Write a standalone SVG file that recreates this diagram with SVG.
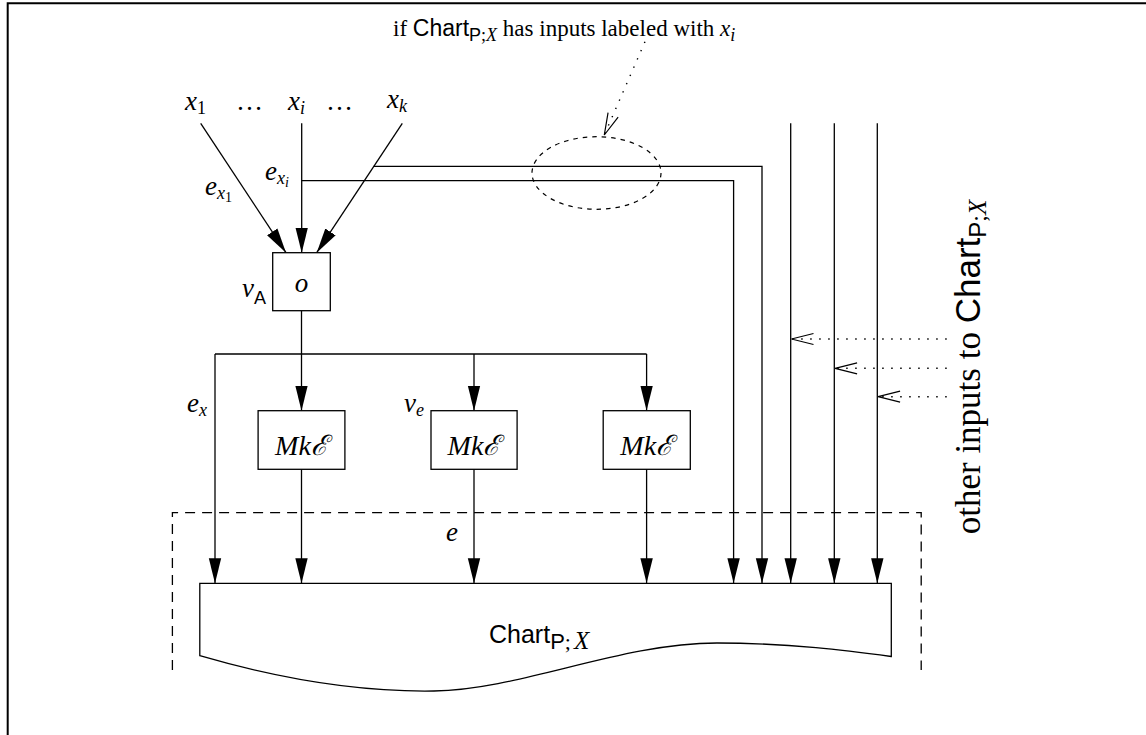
<svg xmlns="http://www.w3.org/2000/svg" width="1146" height="735" viewBox="0 0 1146 735">
<defs>
<style>
.ln{fill:none;stroke:#000;stroke-width:1.3}
.bx{fill:#fff;stroke:#000;stroke-width:1.3}
.dot{fill:none;stroke:#000;stroke-width:1.4;stroke-dasharray:1.5 7.5}
.rm{font-family:"Liberation Serif","DejaVu Serif",serif;fill:#000}
.m{font-size:27px}
.it{font-family:"Liberation Serif","DejaVu Serif",serif;font-style:italic}
.sf{font-family:"Liberation Sans",Arial,sans-serif;font-style:normal}
.sub{font-size:18px}
.ssub{font-size:14px}
.mk{font-size:28px;text-anchor:middle}
</style>
<marker id="ah" markerUnits="userSpaceOnUse" markerWidth="26" markerHeight="14" viewBox="0 0 26 14" refX="25" refY="7" orient="auto">
<path d="M0,0.8 L25,7 L0,13.2 Z" fill="#000"/>
</marker>
<marker id="oh" markerUnits="userSpaceOnUse" markerWidth="26" markerHeight="16" viewBox="-1 -8 26 16" refX="22" refY="0" orient="auto">
<path d="M0,-5.5 L22,0 L0,5.5" fill="none" stroke="#000" stroke-width="1.2"/>
</marker>
</defs>
<rect width="1146" height="735" fill="#fff"/>
<path d="M7.7,735 V3.3 H1146" fill="none" stroke="#000" stroke-width="2"/>

<g id="connectors">
<path class="ln" d="M200.7,123.3 L286,252.7" marker-end="url(#ah)"/>
<path class="ln" d="M301.7,123.3 V252.7" marker-end="url(#ah)"/>
<path class="ln" d="M402.3,123.3 L316.7,252.7" marker-end="url(#ah)"/>
<path class="ln" d="M373.8,166.3 H762 V583.3" marker-end="url(#ah)"/>
<path class="ln" d="M301.7,180.7 H733.6 V583.3" marker-end="url(#ah)"/>
<path class="ln" d="M790.7,123.3 V583.3" marker-end="url(#ah)"/>
<path class="ln" d="M834.3,123.3 V583.3" marker-end="url(#ah)"/>
<path class="ln" d="M877.3,123.3 V583.3" marker-end="url(#ah)"/>
<path class="ln" d="M301.5,310.7 V354"/>
<path class="ln" d="M215,354 H646.6"/>
<path class="ln" d="M215,354 V583.3" marker-end="url(#ah)"/>
<path class="ln" d="M301.5,354 V410.7" marker-end="url(#ah)"/>
<path class="ln" d="M474,354 V410.7" marker-end="url(#ah)"/>
<path class="ln" d="M646.6,354 V410.7" marker-end="url(#ah)"/>
<path class="ln" d="M301.5,469.3 V583.3" marker-end="url(#ah)"/>
<path class="ln" d="M474,469.3 V583.3" marker-end="url(#ah)"/>
<path class="ln" d="M646.6,469.3 V583.3" marker-end="url(#ah)"/>
<path class="dot" d="M645,41.7 L604.3,135" marker-end="url(#oh)"/>
<path class="dot" d="M946.7,339 H791.5" marker-end="url(#oh)"/>
<path class="dot" d="M946.7,368.3 H835.1" marker-end="url(#oh)"/>
<path class="dot" d="M946.7,396.7 H878.1" marker-end="url(#oh)"/>
</g>

<g id="title">
<text class="rm" x="393" y="36" style="font-size:23px">if <tspan class="sf">Chart</tspan><tspan class="sf sub" dy="5">P</tspan><tspan class="sub">;</tspan><tspan class="it sub">X</tspan><tspan dy="-5"> has inputs labeled with </tspan><tspan class="it">x</tspan><tspan class="it sub" dy="5">i</tspan></text>
</g>

<g id="highlight">
<ellipse cx="596.5" cy="173" rx="64.5" ry="36.3" fill="none" stroke="#000" stroke-width="1.2" stroke-dasharray="4.5 5"/>
</g>

<g id="inputs">
<text class="rm m" x="185" y="110"><tspan class="it">x</tspan><tspan class="sub" dy="4">1</tspan></text>
<text class="rm m" x="236" y="110">…</text>
<text class="rm m" x="288" y="110"><tspan class="it">x</tspan><tspan class="it sub" dy="4">i</tspan></text>
<text class="rm m" x="326" y="110">…</text>
<text class="rm m" x="387" y="108"><tspan class="it">x</tspan><tspan class="it sub" dy="4">k</tspan></text>
<text class="rm m" x="205" y="195"><tspan class="it">e</tspan><tspan class="it sub" dy="4">x</tspan><tspan class="ssub" dy="3">1</tspan></text>
<text class="rm m" x="265" y="180"><tspan class="it">e</tspan><tspan class="it sub" dy="4">x</tspan><tspan class="it ssub" dy="3">i</tspan></text>
</g>

<g id="node-o">
<rect class="bx" x="272.7" y="252.7" width="57.6" height="58"/>
<text class="rm m it" x="301.5" y="292" text-anchor="middle">o</text>
<text class="rm m" x="242" y="297"><tspan class="it">v</tspan><tspan class="sf sub" dy="7">A</tspan></text>
</g>

<g id="label-ex">
<text class="rm m" x="187" y="412"><tspan class="it">e</tspan><tspan class="it sub" dy="4">x</tspan></text>
</g>

<g id="mk1">
<rect class="bx" x="258.1" y="410.7" width="86.8" height="58.6"/>
<text class="rm it mk" x="301.5" y="455">Mkℰ</text>
</g>
<g id="mk2">
<rect class="bx" x="431" y="410.7" width="86.1" height="58.6"/>
<text class="rm it mk" x="474" y="455">Mkℰ</text>
<text class="rm m" x="404" y="412"><tspan class="it">v</tspan><tspan class="it sub" dy="4">e</tspan></text>
</g>
<g id="mk3">
<rect class="bx" x="603.2" y="410.7" width="87.1" height="58.6"/>
<text class="rm it mk" x="646.7" y="455">Mkℰ</text>
</g>

<g id="label-e">
<text class="rm m it" x="446" y="541">e</text>
</g>

<g id="frame">
<path d="M172.4,670 V512.7 H921.2 V670" fill="none" stroke="#000" stroke-width="1.3" stroke-dasharray="10 7"/>
</g>

<g id="chart">
<path class="bx" d="M199.8,583.3 H891.3 V656.5 C850,651 790,643 717,643 C620,643 520,690 434,691 C370,692 290,682 199.8,655.7 Z"/>
<text class="rm" x="489" y="643" style="font-size:25px"><tspan class="sf">Chart</tspan><tspan class="sf" style="font-size:22px" dy="6">P</tspan><tspan style="font-size:22px">;</tspan><tspan class="it" style="font-size:25px" dx="3">X</tspan></text>
</g>

<g id="other-inputs">
<text class="rm" transform="translate(980,367) rotate(-90)" text-anchor="middle" style="font-size:35px">other inputs to <tspan class="sf">Chart</tspan><tspan class="sf" style="font-size:24px" dy="6">P</tspan><tspan style="font-size:24px">;</tspan><tspan class="it" style="font-size:25px">X</tspan></text>
</g>
</svg>
